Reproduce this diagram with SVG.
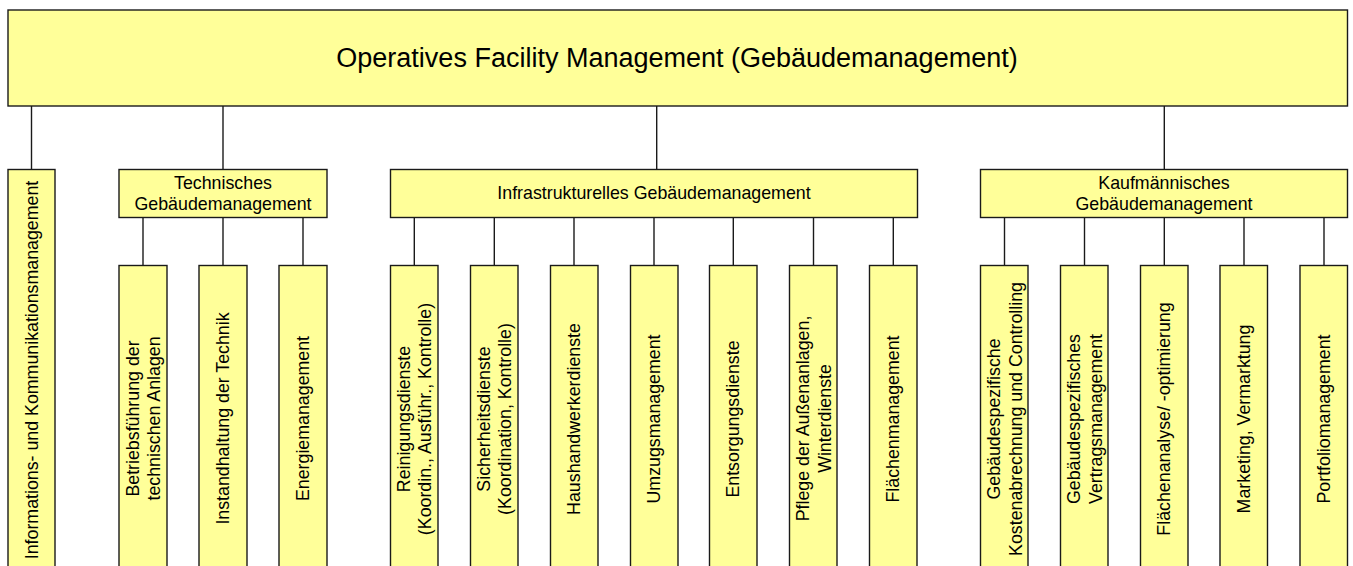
<svg xmlns="http://www.w3.org/2000/svg" width="1353" height="566" viewBox="0 0 1353 566">
  <style>
    .box { fill: #ffff99; stroke: #1a1a1a; stroke-width: 1.4; }
    .conn line { stroke: #1a1a1a; stroke-width: 1.4; }
    text { font-family: "Liberation Sans", Arial, sans-serif; fill: #000; }
    .lbl { font-size: 17.8px; text-anchor: middle; }
    .title { font-size: 27px; text-anchor: middle; }
  </style>
  <rect width="1353" height="566" fill="#ffffff"/>

  <!-- connectors -->
  <g id="connectors" class="conn">
    <!-- root to branches -->
    <line x1="31.5" y1="106" x2="31.5" y2="169.5"/>
    <line x1="223" y1="106" x2="223" y2="169.5"/>
    <line x1="656.7" y1="106" x2="656.7" y2="169.5"/>
    <line x1="1164.3" y1="106" x2="1164.3" y2="169.5"/>
    <!-- technical -->
    <line x1="143" y1="217.5" x2="143" y2="265.5"/>
    <line x1="223" y1="217.5" x2="223" y2="265.5"/>
    <line x1="303" y1="217.5" x2="303" y2="265.5"/>
    <!-- infrastructural -->
    <line x1="414.3" y1="217.5" x2="414.3" y2="265.5"/>
    <line x1="494.3" y1="217.5" x2="494.3" y2="265.5"/>
    <line x1="574" y1="217.5" x2="574" y2="265.5"/>
    <line x1="654" y1="217.5" x2="654" y2="265.5"/>
    <line x1="733.3" y1="217.5" x2="733.3" y2="265.5"/>
    <line x1="813.5" y1="217.5" x2="813.5" y2="265.5"/>
    <line x1="893.3" y1="217.5" x2="893.3" y2="265.5"/>
    <!-- commercial -->
    <line x1="1004.5" y1="217.5" x2="1004.5" y2="265.5"/>
    <line x1="1084.5" y1="217.5" x2="1084.5" y2="265.5"/>
    <line x1="1164.3" y1="217.5" x2="1164.3" y2="265.5"/>
    <line x1="1244" y1="217.5" x2="1244" y2="265.5"/>
    <line x1="1324" y1="217.5" x2="1324" y2="265.5"/>
  </g>

  <!-- root -->
  <g id="root">
    <rect class="box" x="8" y="10" width="1339.5" height="96"/>
    <text class="title" x="677" y="67">Operatives Facility Management (Gebäudemanagement)</text>
  </g>

  <!-- branches -->
  <g id="ikm">
    <rect class="box" x="8" y="169.5" width="47" height="410"/>
    <text class="lbl" transform="translate(31.5 370) rotate(-90)" y="6">Informations- und Kommunikationsmanagement</text>
  </g>
  <g id="tgm">
    <rect class="box" x="119" y="169.5" width="208" height="48"/>
    <text class="lbl"><tspan x="223" y="188.5">Technisches</tspan><tspan x="223" y="210">Gebäudemanagement</tspan></text>
  </g>
  <g id="igm">
    <rect class="box" x="390.5" y="169.5" width="527" height="48"/>
    <text class="lbl" x="654" y="199">Infrastrukturelles Gebäudemanagement</text>
  </g>
  <g id="kgm">
    <rect class="box" x="980.5" y="169.5" width="367" height="48"/>
    <text class="lbl"><tspan x="1164" y="188.5">Kaufmännisches</tspan><tspan x="1164" y="210">Gebäudemanagement</tspan></text>
  </g>

  <!-- technical leaves -->
  <g id="tgm-betrieb">
    <rect class="box" x="119" y="265.5" width="48" height="310"/>
    <text class="lbl" transform="translate(143 418.5) rotate(-90)"><tspan x="0" y="-4.5">Betriebsführung der</tspan><tspan x="0" y="17.2">technischen Anlagen</tspan></text>
  </g>
  <g id="tgm-instand">
    <rect class="box" x="199" y="265.5" width="48" height="310"/>
    <text class="lbl" transform="translate(223 418.5) rotate(-90)" y="5.5">Instandhaltung der Technik</text>
  </g>
  <g id="tgm-energie">
    <rect class="box" x="279" y="265.5" width="48" height="310"/>
    <text class="lbl" transform="translate(303 418.5) rotate(-90)" y="5.5">Energiemanagement</text>
  </g>

  <!-- infrastructural leaves -->
  <g id="igm-reinigung">
    <rect class="box" x="390.5" y="265.5" width="47.5" height="310"/>
    <text class="lbl" transform="translate(414.3 419) rotate(-90)"><tspan x="0" y="-4.5">Reinigungsdienste</tspan><tspan x="0" y="17.2">(Koordin., Ausführ., Kontrolle)</tspan></text>
  </g>
  <g id="igm-sicherheit">
    <rect class="box" x="470.5" y="265.5" width="47.5" height="310"/>
    <text class="lbl" transform="translate(494.3 419) rotate(-90)"><tspan x="0" y="-4.5">Sicherheitsdienste</tspan><tspan x="0" y="17.2">(Koordination, Kontrolle)</tspan></text>
  </g>
  <g id="igm-haushandwerker">
    <rect class="box" x="550.5" y="265.5" width="47.5" height="310"/>
    <text class="lbl" transform="translate(574 419) rotate(-90)" y="5.5">Haushandwerkerdienste</text>
  </g>
  <g id="igm-umzug">
    <rect class="box" x="630.5" y="265.5" width="47.5" height="310"/>
    <text class="lbl" transform="translate(654 419) rotate(-90)" y="5.5">Umzugsmanagement</text>
  </g>
  <g id="igm-entsorgung">
    <rect class="box" x="709.5" y="265.5" width="47.5" height="310"/>
    <text class="lbl" transform="translate(733.3 419) rotate(-90)" y="5.5">Entsorgungsdienste</text>
  </g>
  <g id="igm-aussenanlagen">
    <rect class="box" x="789.5" y="265.5" width="47.5" height="310"/>
    <text class="lbl" transform="translate(813.5 418.5) rotate(-90)"><tspan x="0" y="-4.5">Pflege der Außenanlagen,</tspan><tspan x="0" y="17.2">Winterdienste</tspan></text>
  </g>
  <g id="igm-flaechen">
    <rect class="box" x="869.5" y="265.5" width="47.5" height="310"/>
    <text class="lbl" transform="translate(893.3 419) rotate(-90)" y="5.5">Flächenmanagement</text>
  </g>

  <!-- commercial leaves -->
  <g id="kgm-kosten">
    <rect class="box" x="980.5" y="265.5" width="47.5" height="310"/>
    <text class="lbl" transform="translate(1004.5 419) rotate(-90)"><tspan x="0" y="-4.5">Gebäudespezifische</tspan><tspan x="0" y="17.2">Kostenabrechnung und Controlling</tspan></text>
  </g>
  <g id="kgm-vertrag">
    <rect class="box" x="1060.5" y="265.5" width="47.5" height="310"/>
    <text class="lbl" transform="translate(1084.5 419) rotate(-90)"><tspan x="0" y="-4.5">Gebäudespezifisches</tspan><tspan x="0" y="17.2">Vertragsmanagement</tspan></text>
  </g>
  <g id="kgm-flaechenanalyse">
    <rect class="box" x="1140.5" y="265.5" width="47.5" height="310"/>
    <text class="lbl" transform="translate(1164.3 419) rotate(-90)" y="5.5">Flächenanalyse/ -optimierung</text>
  </g>
  <g id="kgm-marketing">
    <rect class="box" x="1220" y="265.5" width="47.5" height="310"/>
    <text class="lbl" transform="translate(1244 419) rotate(-90)" y="5.5">Marketing, Vermarktung</text>
  </g>
  <g id="kgm-portfolio">
    <rect class="box" x="1300" y="265.5" width="47.5" height="310"/>
    <text class="lbl" transform="translate(1324 419) rotate(-90)" y="5.5">Portfoliomanagement</text>
  </g>
</svg>
